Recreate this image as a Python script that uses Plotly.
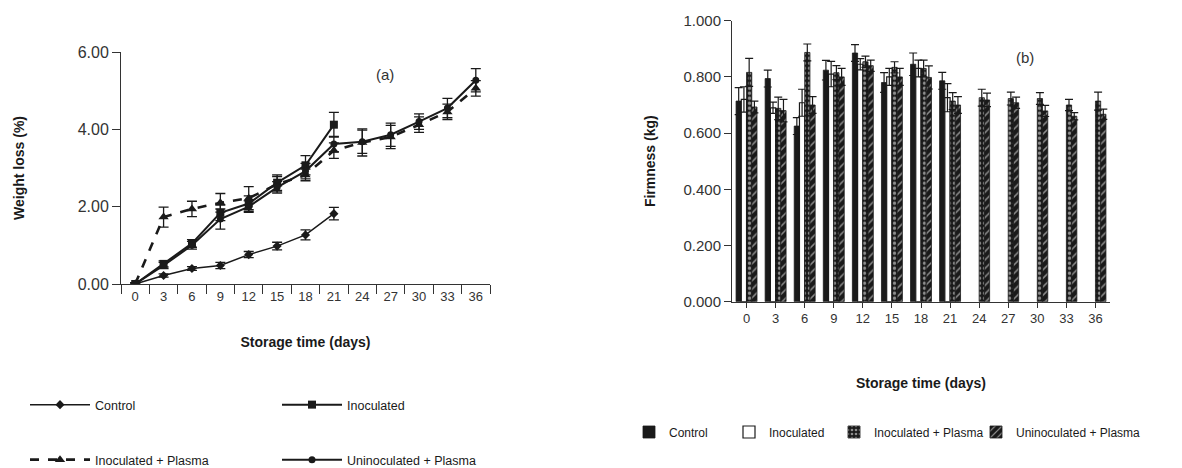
import plotly.graph_objects as go

days = ["0", "3", "6", "9", "12", "15", "18", "21", "24", "27", "30", "33", "36"]

# Panel (a) weight loss (%)
wl_control = [0, 0.22, 0.40, 0.48, 0.76, 0.98, 1.27, 1.82]
wl_control_err = [0.03, 0.04, 0.05, 0.08, 0.08, 0.10, 0.13, 0.16]
wl_inoculated = [0, 0.52, 1.05, 1.84, 2.08, 2.62, 3.07, 4.12]
wl_inoculated_err = [0.03, 0.08, 0.10, 0.20, 0.20, 0.20, 0.25, 0.32]
wl_inoc_plasma = [0, 1.73, 1.94, 2.10, 2.22, 2.58, 2.82, 3.45, 3.66, 3.80, 4.12, 4.45, 5.06]
wl_inoc_plasma_err = [0.03, 0.26, 0.20, 0.24, 0.30, 0.20, 0.15, 0.20, 0.35, 0.30, 0.20, 0.20, 0.20]
wl_uninoc_plasma = [0, 0.48, 1.00, 1.68, 2.00, 2.50, 2.92, 3.62, 3.68, 3.86, 4.20, 4.55, 5.27]
wl_uninoc_plasma_err = [0.03, 0.08, 0.10, 0.26, 0.15, 0.15, 0.20, 0.20, 0.30, 0.30, 0.20, 0.25, 0.30]

# Panel (b) firmness (kg)
fm_control = [0.714, 0.794, 0.625, 0.824, 0.885, 0.780, 0.845, 0.786]
fm_control_err = [0.048, 0.030, 0.030, 0.035, 0.030, 0.035, 0.040, 0.030]
fm_inoculated = [0.720, 0.690, 0.708, 0.810, 0.845, 0.800, 0.830, 0.726]
fm_inoculated_err = [0.045, 0.020, 0.048, 0.045, 0.020, 0.030, 0.030, 0.050]
fm_inoc_plasma = [0.816, 0.688, 0.887, 0.815, 0.854, 0.834, 0.830, 0.714, 0.726, 0.723, 0.723, 0.700, 0.714]
fm_inoc_plasma_err = [0.050, 0.040, 0.030, 0.025, 0.020, 0.020, 0.030, 0.030, 0.030, 0.023, 0.021, 0.020, 0.032]
fm_uninoc_plasma = [0.693, 0.680, 0.700, 0.800, 0.840, 0.800, 0.798, 0.700, 0.718, 0.708, 0.679, 0.660, 0.667]
fm_uninoc_plasma_err = [0.021, 0.040, 0.030, 0.030, 0.020, 0.030, 0.041, 0.030, 0.024, 0.020, 0.020, 0.013, 0.018]

FONT = "Liberation Sans, Arial, sans-serif"
INK = "#1a1a1a"
TXT = "#333333"
W, H = 1182, 468
OFF = 8  # page body margin


def px_x(x):
    return (x - OFF) / W


def px_y(y):
    return 1 - (y - OFF) / H


fig = go.Figure()

line_specs = [
    ("Control", wl_control, wl_control_err, "diamond", 7, "solid", 1.5, "legend"),
    ("Inoculated", wl_inoculated, wl_inoculated_err, "square", 8, "solid", 2.0, "legend2"),
    ("Inoculated + Plasma", wl_inoc_plasma, wl_inoc_plasma_err, "triangle-up", 9, "dash", 2.6, "legend3"),
    ("Uninoculated + Plasma", wl_uninoc_plasma, wl_uninoc_plasma_err, "circle", 7, "solid", 2.0, "legend4"),
]
for name, vals, e, sym, sz, dash, w, lg in line_specs:
    fig.add_trace(go.Scatter(
        x=days[:len(vals)], y=vals, name=name, mode="lines+markers",
        line=dict(color=INK, width=w, dash=dash),
        marker=dict(symbol=sym, size=sz, color=INK),
        error_y=dict(type="data", array=e, visible=True, color=INK, thickness=1.3, width=5),
        xaxis="x", yaxis="y", legend=lg,
    ))

bar_specs = [
    ("Control", fm_control, fm_control_err, dict(color=INK, line=dict(color=INK, width=0.8)), "legend5"),
    ("Inoculated", fm_inoculated, fm_inoculated_err, dict(color="white", line=dict(color=INK, width=1.2)), "legend6"),
    ("Inoculated + Plasma", fm_inoc_plasma, fm_inoc_plasma_err,
     dict(color=INK, line=dict(color=INK, width=0.8),
          pattern=dict(shape=".", fgcolor="white", bgcolor=INK, size=5, solidity=0.35)), "legend7"),
    ("Uninoculated + Plasma", fm_uninoc_plasma, fm_uninoc_plasma_err,
     dict(color=INK, line=dict(color=INK, width=0.8),
          pattern=dict(shape="/", fgcolor="white", bgcolor=INK, size=6, solidity=0.25)), "legend8"),
]
for name, vals, e, mk, lg in bar_specs:
    fig.add_trace(go.Bar(
        x=days[:len(vals)], y=vals, name=name, marker=mk,
        error_y=dict(type="data", array=e, visible=True, color=INK, thickness=1.2, width=4),
        xaxis="x2", yaxis="y2", legend=lg,
    ))

base_axis = dict(showline=True, linecolor="#333", linewidth=1, showgrid=False, zeroline=False,
                 ticks="outside", tickcolor="#333", automargin=False)
title_font = dict(size=14, family=FONT, color=INK)

fig.update_layout(
    width=W, height=H,
    margin=dict(l=0, r=0, t=0, b=0, autoexpand=False),
    paper_bgcolor="white", plot_bgcolor="white",
    font=dict(family=FONT, color=TXT),
    showlegend=True,
    barmode="group", bargap=0.28, bargroupgap=0,
    xaxis=dict(domain=[px_x(121), px_x(490)], type="category", categoryorder="array", categoryarray=days,
               range=[-0.5, 12.5], tickson="boundaries", ticklen=9,
               title=dict(text="<b>Storage time (days)</b>", font=title_font, standoff=34),
               tickfont=dict(size=13, family=FONT, color=TXT), **base_axis),
    yaxis=dict(domain=[px_y(284), px_y(52)], range=[0, 6], dtick=2, tickformat=".2f", ticklen=8,
               title=dict(text="<b>Weight loss (%)</b>", font=title_font, standoff=49),
               tickfont=dict(size=16, family=FONT, color=TXT), **base_axis),
    xaxis2=dict(domain=[px_x(732), px_x(1110)], type="category", categoryorder="array", categoryarray=days,
                range=[-0.5, 12.5], ticklen=5, anchor="y2",
                title=dict(text="<b>Storage time (days)</b>", font=title_font, standoff=52),
                tickfont=dict(size=13, family=FONT, color=TXT), **base_axis),
    yaxis2=dict(domain=[px_y(301.7), px_y(20.7)], range=[0, 1.0], dtick=0.2, tickformat=".3f", ticklen=7,
                anchor="x2",
                title=dict(text="<b>Firmness (kg)</b>", font=title_font, standoff=24),
                tickfont=dict(size=15, family=FONT, color=TXT), **base_axis),
    annotations=[
        dict(text="(a)", x=px_x(385), y=px_y(75), xref="paper", yref="paper", showarrow=False,
             xanchor="center", yanchor="middle", font=dict(size=15, family=FONT, color=TXT)),
        dict(text="(b)", x=px_x(1025), y=px_y(58), xref="paper", yref="paper", showarrow=False,
             xanchor="center", yanchor="middle", font=dict(size=15, family=FONT, color=TXT)),
    ],
)

lg_a = dict(font=dict(size=12.5, family=FONT, color=INK), itemwidth=60, bgcolor="rgba(0,0,0,0)",
            xanchor="left", yanchor="middle", orientation="h")
fig.update_layout(
    legend=dict(x=17 / W, y=px_y(405), **lg_a),
    legend2=dict(x=269 / W, y=px_y(405), **lg_a),
    legend3=dict(x=17 / W, y=px_y(460), **lg_a),
    legend4=dict(x=269 / W, y=px_y(460), **lg_a),
)
lg_b = dict(font=dict(size=12, family=FONT, color=INK), itemwidth=30, bgcolor="rgba(0,0,0,0)",
            xanchor="left", yanchor="middle", orientation="h")
fig.update_layout(
    legend5=dict(x=621 / W, y=px_y(432), **lg_b),
    legend6=dict(x=721 / W, y=px_y(432), **lg_b),
    legend7=dict(x=826 / W, y=px_y(432), **lg_b),
    legend8=dict(x=968 / W, y=px_y(432), **lg_b),
)

fig.write_html("out.html")
